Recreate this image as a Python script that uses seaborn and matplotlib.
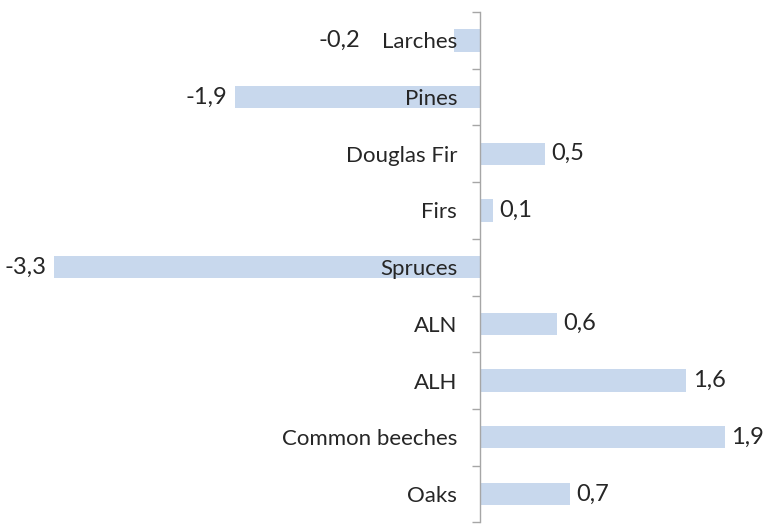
import numpy as np
import pandas as pd
import seaborn as sns
import matplotlib.pyplot as plt

# data
species = ['Larches', 'Pines', 'Douglas Fir', 'Firs', 'Spruces',
           'ALN', 'ALH', 'Common beeches', 'Oaks']
change = [-0.2, -1.9, 0.5, 0.1, -3.3, 0.6, 1.6, 1.9, 0.7]

df = pd.DataFrame({'species': species, 'change': change})

sns.set_style('white')
plt.rcParams['font.family'] = ['Lato', 'DejaVu Sans']
plt.rcParams['hatch.linewidth'] = 0.4
plt.rcParams['hatch.color'] = '#b3c6e0'
FS = 17

fig = plt.figure(figsize=(7.71, 5.28), dpi=100)
ax = fig.add_axes([0, 0.011, 1, 0.966])

sns.barplot(data=df, y='species', x='change', orient='h', color='#c8d8ed',
            saturation=1, width=0.39, ax=ax)
for p in ax.patches:
    p.set_hatch('++++')
    p.set_edgecolor('none')

ax.set_xlim(-480 / 129, 291 / 129)
ax.set_ylim(8.5, -0.5)
ax.set_xlabel('')
ax.set_ylabel('')
ax.set_xticks([])
ax.set_axisbelow(False)

# category labels at centers, tick marks at the boundaries
ax.set_yticks(np.arange(-0.5, 9.0, 1.0))
ax.set_yticklabels([])
ax.set_yticks(np.arange(9), minor=True)
ax.set_yticklabels(species, minor=True)
ax.tick_params(axis='y', which='major', length=6, color='#a6a6a6', width=1,
               direction='out', left=True)
ax.tick_params(axis='y', which='minor', length=0, pad=16.5, labelsize=16)

for s in ['top', 'right', 'bottom']:
    ax.spines[s].set_visible(False)
ax.spines['left'].set_position(('data', 0))
ax.spines['left'].set_color('#a6a6a6')
ax.spines['left'].set_linewidth(1)

# value labels with decimal comma; negative ones kept clear of the category text
fig.canvas.draw()
renderer = fig.canvas.get_renderer()
cat_left = {t.get_text(): t.get_window_extent(renderer).x0
            for t in ax.get_yticklabels(minor=True)}
for i, v in enumerate(change):
    txt = '{:.1f}'.format(v).replace('.', ',')
    if v >= 0:
        ax.annotate(txt, xy=(v, i), xytext=(4.5, 0), textcoords='offset points',
                    ha='left', va='center', fontsize=FS)
    else:
        bar_px = ax.transData.transform((v, i))[0] - 8
        right_px = min(bar_px, cat_left[species[i]] - 22)
        x = ax.transData.inverted().transform((right_px, 0))[0]
        ax.text(x, i, txt, ha='right', va='center', fontsize=FS)

fig.savefig('out.png', dpi=100)
